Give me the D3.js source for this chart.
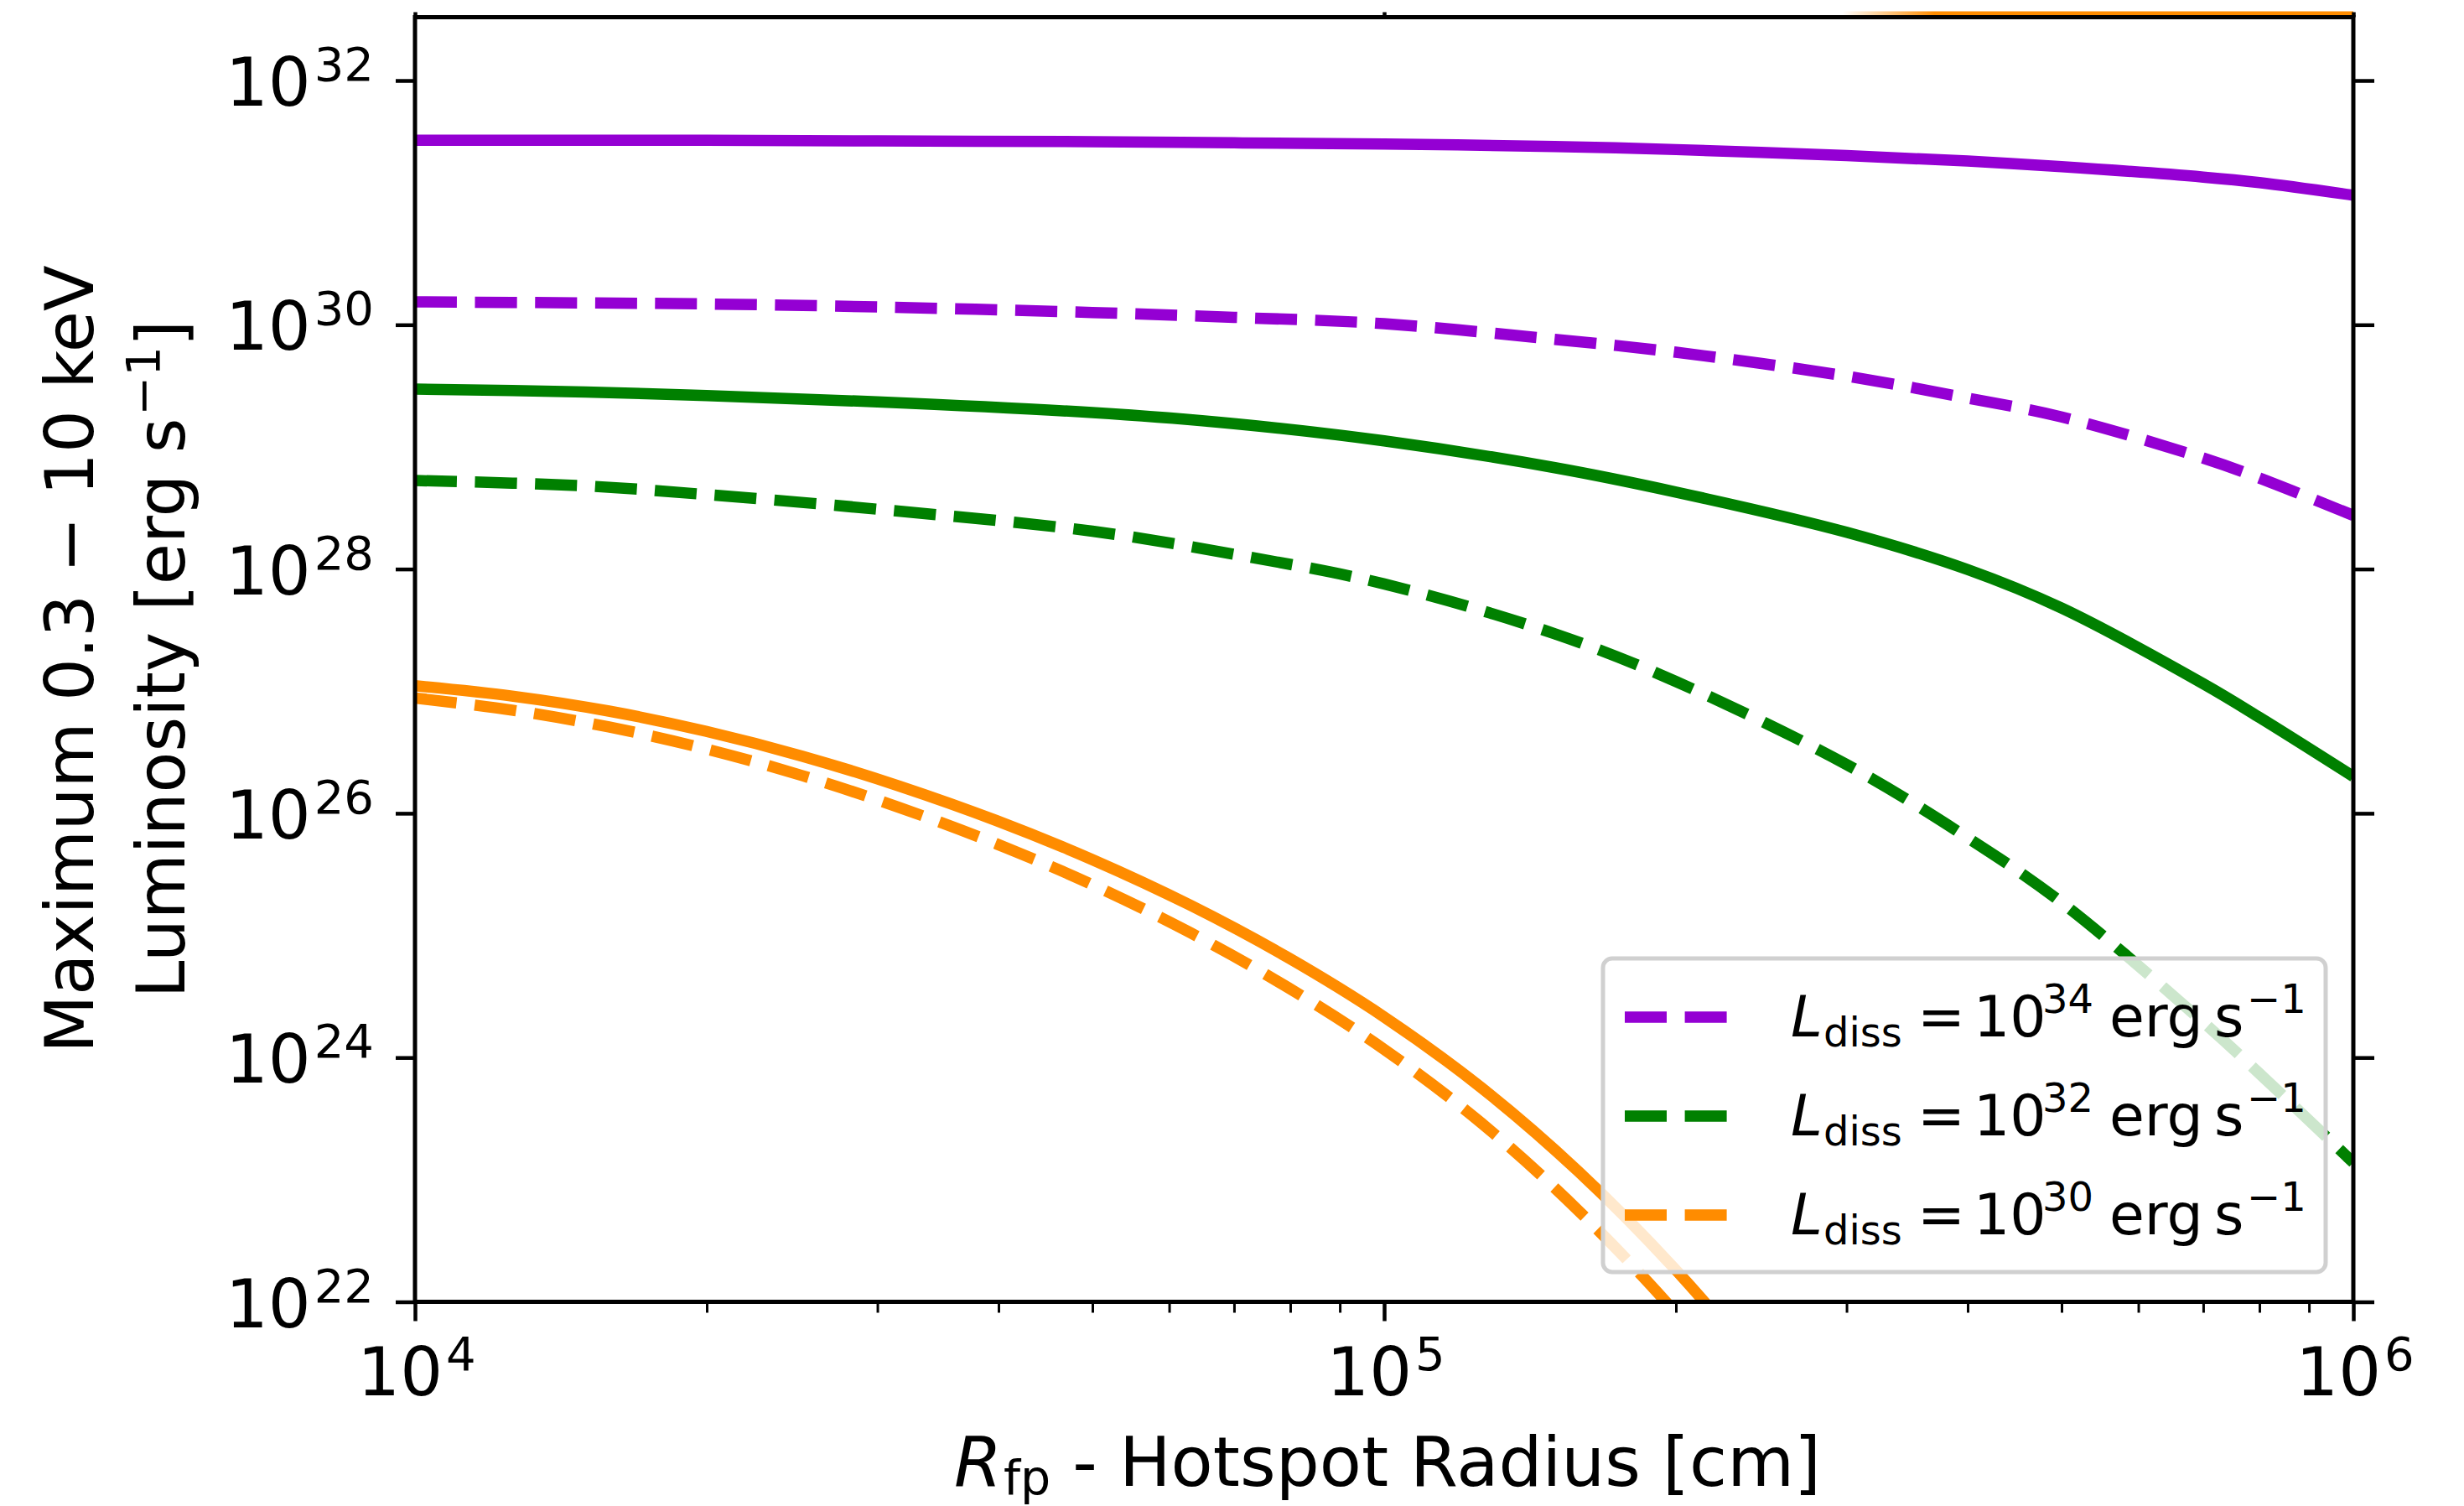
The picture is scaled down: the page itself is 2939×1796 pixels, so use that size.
<!DOCTYPE html>
<html>
<head>
<meta charset="utf-8">
<script src="https://cdn.jsdelivr.net/npm/d3@7"></script>
<style>
  html, body { margin: 0; padding: 0; background: #fff; }
  svg { display: block; font-family: 'DejaVu Sans', sans-serif; }
</style>
</head>
<body>
<div class="svg-container"></div>
<script>
// hotspot radius samples [cm] for the upper four curves
const radius = [1e4, 1.5e4, 2e4, 3e4, 5e4, 7e4, 1e5, 1.5e5, 2e5, 3e5, 4e5, 5e5, 7e5, 8e5, 1e6]
// maximum 0.3-10 keV luminosity [erg/s]
const purpleSolid  = [3.24e31, 3.24e31, 3.24e31, 3.20e31, 3.16e31, 3.09e31, 3.02e31, 2.88e31, 2.72e31, 2.43e31, 2.19e31, 1.97e31, 1.62e31, 1.46e31, 1.15e31]
const purpleDashed = [1.54e30, 1.51e30, 1.48e30, 1.40e30, 1.26e30, 1.15e30, 1.02e30, 7.6e29, 5.96e29, 3.8e29, 2.51e29, 1.76e29, 8.1e28, 5.56e28, 2.75e28]
const greenSolid   = [2.97e29, 2.82e29, 2.63e29, 2.34e29, 1.91e29, 1.55e29, 1.12e29, 6.76e28, 4.27e28, 2.0e28, 9.9e27, 4.79e27, 1.15e27, 6.1e26, 2.0e26]
const greenDashed  = [5.31e28, 4.79e28, 4.07e28, 3.09e28, 2.04e28, 1.32e28, 7.55e27, 2.95e27, 1.2e27, 2.51e26, 6.3e25, 1.86e25, 1.95e24, 7.4e23, 1.38e23]

// orange curves fall off the bottom, sampled separately
const radiusOrange = [1e4, 1.259e4, 1.585e4, 1.995e4, 2.512e4, 3.162e4, 3.981e4, 5.012e4, 6.31e4, 7.943e4, 1e5, 1.259e5, 1.585e5, 1.995e5, 2.512e5]
const orangeSolid  = [1.107e27, 9.12e26, 6.87e26, 4.70e26, 2.93e26, 1.667e26, 8.71e25, 4.14e25, 1.766e25, 6.64e24, 2.15e24, 5.69e23, 1.175e23, 1.86e22, 2.24e21]
const orangeDashed = [8.79e26, 7.0e26, 5.09e26, 3.37e26, 2.03e26, 1.114e26, 5.62e25, 2.58e25, 1.052e25, 3.78e24, 1.167e24, 2.92e23, 5.62e22, 8.3e21, 9.3e20]

// stray orange piece running along the top edge
const radiusOrangeTop = [2.97e5, 1e6]
const orangeTop = [3.52e32, 3.52e32]

const xTicks = [1e4, 1e5, 1e6]
const xMinorTicks = [2e4, 3e4, 4e4, 5e4, 6e4, 7e4, 8e4, 9e4, 2e5, 3e5, 4e5, 5e5, 6e5, 7e5, 8e5, 9e5]
const yTicks = [1e22, 1e24, 1e26, 1e28, 1e30, 1e32]
const legendPowers = ['34', '32', '30']

const purple = '#9400d3'
const green = '#008000'
const orange = '#ff8c00'

const series = [
  { r: radius, v: purpleSolid, color: purple, dashed: false },
  { r: radius, v: purpleDashed, color: purple, dashed: true },
  { r: radius, v: greenSolid, color: green, dashed: false },
  { r: radius, v: greenDashed, color: green, dashed: true },
  { r: radiusOrange, v: orangeSolid, color: orange, dashed: false },
  { r: radiusOrange, v: orangeDashed, color: orange, dashed: true }
]

const svgWidth = 2939
const svgHeight = 1796
const plot = { left: 495, right: 2807, top: 20.5, bottom: 1552.5 }
const lineWidth = 13.5
const dash = '50 21.6'
const fontSize = 80
const supSize = 56

const svg = d3.select('.svg-container')
  .append('svg')
  .attr('width', svgWidth)
  .attr('height', svgHeight)

const xScale = d3.scaleLog([1e4, 1e6], [plot.left, plot.right])
const yScale = d3.scaleLog([1e22, 3.3e32], [plot.bottom, plot.top])

const defs = svg.append('defs')
defs.append('clipPath')
  .attr('id', 'plot-clip')
  .append('rect')
  .attr('x', plot.left)
  .attr('y', plot.top)
  .attr('width', plot.right - plot.left)
  .attr('height', plot.bottom - plot.top)

const fade = defs.append('linearGradient')
  .attr('id', 'top-fade')
  .attr('gradientUnits', 'userSpaceOnUse')
  .attr('x1', xScale(radiusOrangeTop[0]))
  .attr('x2', xScale(radiusOrangeTop[0]) + 110)
  .attr('y1', 0).attr('y2', 0)
fade.append('stop').attr('offset', 0).attr('stop-color', orange).attr('stop-opacity', 0)
fade.append('stop').attr('offset', 1).attr('stop-color', orange).attr('stop-opacity', 1)

const line = d3.line()
  .x((d) => xScale(d[0]))
  .y((d) => yScale(d[1]))
  .curve(d3.curveCatmullRom.alpha(0.5))

svg.append('g')
  .attr('clip-path', 'url(#plot-clip)')
  .selectAll('path')
  .data(series)
  .join('path')
  .attr('d', (s) => line(d3.zip(s.r, s.v)))
  .attr('fill', 'none')
  .attr('stroke', (s) => s.color)
  .attr('stroke-width', lineWidth)
  .attr('stroke-dasharray', (s) => s.dashed ? dash : null)

svg.append('path')
  .attr('d', line.curve(d3.curveLinear)(d3.zip(radiusOrangeTop, orangeTop)))
  .attr('fill', 'none')
  .attr('stroke', 'url(#top-fade)')
  .attr('stroke-width', 6)

// spines
svg.append('rect')
  .attr('x', plot.left)
  .attr('y', plot.top)
  .attr('width', plot.right - plot.left)
  .attr('height', plot.bottom - plot.top)
  .attr('fill', 'none')
  .attr('stroke', '#000')
  .attr('stroke-width', 5)

function styleAxis(g, width) {
  g.select('.domain').remove()
  g.selectAll('.tick line').attr('stroke', '#000').attr('stroke-width', width)
}

svg.append('g')
  .attr('transform', `translate(0, ${plot.bottom})`)
  .call(d3.axisBottom(xScale).tickValues(xMinorTicks).tickSize(13).tickFormat(''))
  .call((g) => styleAxis(g, 3))

svg.append('g')
  .attr('transform', `translate(0, ${plot.bottom})`)
  .call(d3.axisBottom(xScale).tickValues(xTicks).tickSize(23).tickFormat(''))
  .call((g) => styleAxis(g, 4.5))

svg.append('g')
  .attr('transform', `translate(0, ${plot.top})`)
  .call(d3.axisTop(xScale).tickValues(xTicks).tickSize(6).tickFormat(''))
  .call((g) => styleAxis(g, 4.5))

svg.append('g')
  .attr('transform', `translate(${plot.left}, 0)`)
  .call(d3.axisLeft(yScale).tickValues(yTicks).tickSize(23).tickFormat(''))
  .call((g) => styleAxis(g, 4.5))

svg.append('g')
  .attr('transform', `translate(${plot.right}, 0)`)
  .call(d3.axisRight(yScale).tickValues(yTicks).tickSize(25).tickFormat(''))
  .call((g) => styleAxis(g, 4.5))

function powerLabel(sel) {
  sel.append('tspan').text('10')
  sel.append('tspan')
    .attr('dy', -30)
    .attr('dx', 4)
    .style('font-size', supSize + 'px')
    .text((d) => Math.round(Math.log10(d)))
}

svg.append('g')
  .selectAll('text')
  .data(xTicks)
  .join('text')
  .attr('x', (d) => xScale(d) + 2)
  .attr('y', 1664)
  .attr('text-anchor', 'middle')
  .style('font-size', fontSize + 'px')
  .call(powerLabel)

svg.append('g')
  .selectAll('text')
  .data(yTicks)
  .join('text')
  .attr('x', 446)
  .attr('y', (d) => yScale(d) + 30)
  .attr('text-anchor', 'end')
  .style('font-size', fontSize + 'px')
  .call(powerLabel)

// x axis label
const xLabel = svg.append('text')
  .attr('x', 1138)
  .attr('y', 1772)
  .style('font-size', '82px')
xLabel.append('tspan').style('font-style', 'italic').text('R')
xLabel.append('tspan').attr('dy', 10).attr('dx', 2).style('font-size', '57px').text('fp')
xLabel.append('tspan').attr('dy', -10).text(' - Hotspot Radius [cm]')

// y axis label, two lines
svg.append('text')
  .attr('transform', 'translate(111, 786) rotate(-90)')
  .attr('text-anchor', 'middle')
  .style('font-size', fontSize + 'px')
  .text('Maximum 0.3 \u2212 10 keV')

const yLabel2 = svg.append('text')
  .attr('transform', 'translate(220, 786) rotate(-90)')
  .attr('text-anchor', 'middle')
  .style('font-size', fontSize + 'px')
yLabel2.append('tspan').text('Luminosity [erg s')
yLabel2.append('tspan').attr('dy', -30).attr('dx', 3).style('font-size', supSize + 'px').text('\u22121')
yLabel2.append('tspan').attr('dy', 30).text(']')

// legend
const legend = svg.append('g').attr('id', 'legend')
legend.append('rect')
  .attr('x', 1912)
  .attr('y', 1143)
  .attr('width', 862)
  .attr('height', 374)
  .attr('rx', 11)
  .attr('fill', '#fff')
  .attr('fill-opacity', 0.8)
  .attr('stroke', '#d0d0d0')
  .attr('stroke-width', 5)

const legendColors = [purple, green, orange]
const legendSize = 68
const legendSub = 48

legendPowers.forEach((power, i) => {
  const cy = 1213 + i * 118
  legend.append('line')
    .attr('x1', 1938)
    .attr('x2', 2064)
    .attr('y1', cy)
    .attr('y2', cy)
    .attr('stroke', legendColors[i])
    .attr('stroke-width', lineWidth)
    .attr('stroke-dasharray', dash)

  const tx = 2136
  const ty = cy + 23
  const parts = [
    { t: 'L', dx: 0, size: legendSize, shift: 0, italic: true },
    { t: 'diss', dx: 39, size: legendSub, shift: 12 },
    { t: '=', dx: 151, size: legendSize, shift: 0 },
    { t: '10', dx: 218, size: legendSize, shift: 0 },
    { t: power, dx: 300, size: legendSub, shift: -28 },
    { t: 'erg', dx: 380, size: legendSize, shift: 0 },
    { t: 's', dx: 505, size: legendSize, shift: 0 },
    { t: '\u22121', dx: 544, size: legendSub, shift: -28 }
  ]
  const text = legend.append('text')
  parts.forEach((p) => {
    text.append('tspan')
      .attr('x', tx + p.dx)
      .attr('y', ty + p.shift)
      .style('font-size', p.size + 'px')
      .style('font-style', p.italic ? 'italic' : 'normal')
      .text(p.t)
  })
})
</script>
</body>
</html>
